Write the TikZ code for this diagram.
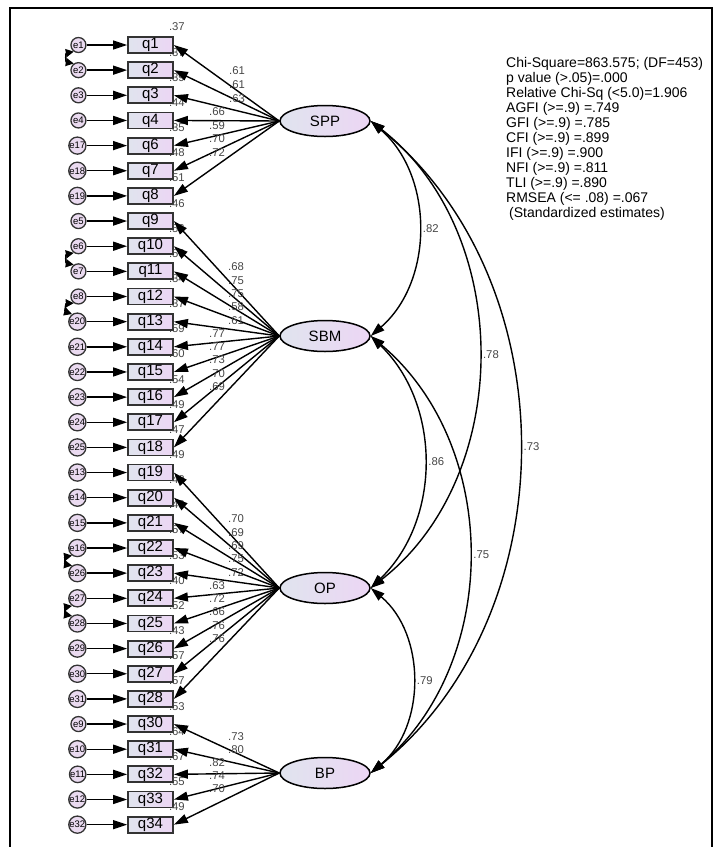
\documentclass[tikz,border=0pt]{standalone}
\usepackage{fontspec}
\setmainfont{Liberation Sans}
\usetikzlibrary{arrows.meta}
\usetikzlibrary{positioning}
\usetikzlibrary{shapes}
\definecolor{boxleft}{RGB}{224,228,238}
\definecolor{boxright}{RGB}{236,214,244}
\definecolor{errfill}{RGB}{234,218,240}
\definecolor{numgray}{RGB}{70,70,70}
\tikzset{item/.style={draw=black!80, line width=1.8pt, rectangle, minimum width=45pt, minimum height=16pt, inner sep=0pt, left color=boxleft, right color=boxright, font=\fontsize{15}{15}\selectfont}}
\tikzset{latent/.style={draw=black, line width=1.5pt, ellipse, minimum width=90pt, minimum height=31pt, inner sep=0pt, left color=boxleft, right color=boxright, font=\fontsize{15}{15}\selectfont}}
\tikzset{error/.style={draw=black!80, line width=1.3pt, circle, minimum size=15pt, inner sep=0pt, fill=errfill, font=\fontsize{9.5}{9.5}\selectfont}}
\tikzset{connect/.style={draw, line width=1.4pt, -{Triangle[length=14pt,width=9pt]}}}
\tikzset{twoway/.style={draw, line width=1.4pt, {Triangle[length=14pt,width=9pt]}-{Triangle[length=14pt,width=9pt]}}}
\tikzset{errcov/.style={draw, line width=1.6pt, {Triangle[length=8pt,width=8pt]}-{Triangle[length=8pt,width=8pt]}}}
\tikzset{value/.style={font=\fontsize{11.3}{11.3}\selectfont, text=numgray, inner sep=0pt}}

\begin{document}
\begin{tikzpicture}[x=1pt,y=1pt]
\useasboundingbox (0,0) rectangle (715,-847);
\draw[line width=2pt] (10,-8) rectangle (712,-852);

%observed items, errors and squared multiple correlations
\foreach \q/\e/\rsq [count=\k from 0] in {1/1/.37, 2/2/.37, 3/3/.39, 4/4/.44, 6/17/.35, 7/18/.48, 8/19/.51, 9/5/.46, 10/6/.56, 11/7/.56, 12/8/.34, 13/20/.37, 14/21/.59, 15/22/.60, 16/23/.54, 17/24/.49, 18/25/.47, 19/13/.49, 20/14/.48, 21/15/.48, 22/16/.57, 23/26/.53, 24/27/.40, 25/28/.52, 26/29/.43, 27/30/.57, 28/31/.57, 30/9/.53, 31/10/.64, 32/11/.67, 33/12/.55, 34/32/.49}{
  \node[item] (q\q) at (150.5,{-45-25.15*\k}) {q\q};
  \node[error,left=40.5pt of q\q] (e\e) {e\e};
  \path[connect] (e\e) -- (q\q);
  \node[value] (r\q) at ([shift={(3,9)}]q\q.north east) {\rsq};
}

%error covariances
\path[errcov] (e1.235) to[bend right=80,looseness=1.8] (e2.125);
\path[errcov] (e6.235) to[bend right=80,looseness=1.8] (e7.125);
\path[errcov] (e8.235) to[bend right=80,looseness=1.8] (e20.125);
\path[errcov] (e16.235) to[bend right=80,looseness=1.8] (e26.125);
\path[errcov] (e27.235) to[bend right=80,looseness=1.8] (e28.125);

%latent factors
\node[latent] (SPP) at (325,-121) {SPP};
\node[latent] (SBM) at (325,-336) {SBM};
\node[latent] (OP) at (325,-588) {OP};
\node[latent] (BP) at (325,-773) {BP};

%loadings
\foreach \q/\v [count=\k from 0] in {1/.61,2/.61,3/.63,4/.66,6/.59,7/.70,8/.72}{
  \path[connect] (SPP.west) -- (q\q.east);
  \node[value] (l\q) at ({\k<3 ? 237 : 217},{-71-13.6*\k}) {\v};
}
\foreach \q/\v [count=\k from 0] in {9/.68,10/.75,11/.75,12/.58,13/.61,14/.77,15/.77,16/.73,17/.70,18/.69}{
  \path[connect] (SBM.west) -- (q\q.east);
  \node[value] (l\q) at ({\k<5 ? 236 : 217},{-267-13.3*\k}) {\v};
}
\foreach \q/\v [count=\k from 0] in {19/.70,20/.69,21/.69,22/.75,23/.72,24/.63,25/.72,26/.66,27/.76,28/.76}{
  \path[connect] (OP.west) -- (q\q.east);
  \node[value] (l\q) at ({\k<5 ? 236 : 217},{-519-13.3*\k}) {\v};
}
\foreach \q/\v [count=\k from 0] in {30/.73,31/.80,32/.82,33/.74,34/.70}{
  \path[connect] (BP.west) -- (q\q.east);
  \node[value] (l\q) at ({\k<2 ? 236 : 217},{-737-13*\k}) {\v};
}

%factor correlations
\path[twoway] (SPP.east) to[bend left=49] node[value,right=4pt]{.82} (SBM.east);
\path[twoway] (SPP.east) to[bend left=52] node[value,right=4pt]{.78} (OP.east);
\path[twoway] (SPP.east) to[bend left=51] node[value,right=4pt]{.73} (BP.east);
\path[twoway] (SBM.east) to[bend left=46] node[value,right=4pt]{.86} (OP.east);
\path[twoway] (SBM.east) to[bend left=50] node[value,right=4pt]{.75} (BP.east);
\path[twoway] (OP.east) to[bend left=50] node[value,right=4pt]{.79} (BP.east);

%fit indices
\node[anchor=north west, align=left, inner sep=0pt, font=\fontsize{14}{15}\selectfont] (fit) at (506,-57) {Chi-Square=863.575; (DF=453)\\p value (>.05)=.000\\Relative Chi-Sq (<5.0)=1.906\\AGFI (>=.9) =.749\\GFI (>=.9) =.785\\CFI (>=.9) =.899\\IFI (>=.9) =.900\\NFI (>=.9) =.811\\TLI (>=.9) =.890\\RMSEA (<= .08) =.067\\\hspace{3pt}(Standardized estimates)};

\end{tikzpicture}
\end{document}
